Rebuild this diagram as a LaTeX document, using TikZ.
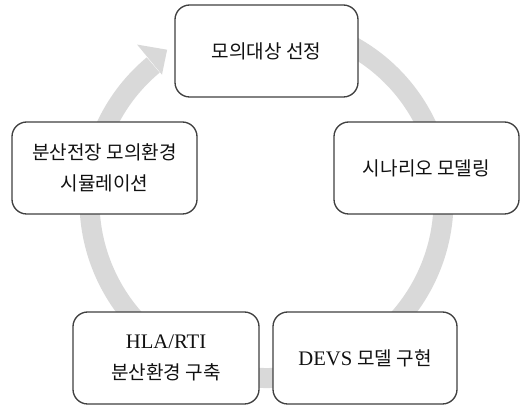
\documentclass[tikz,border=0pt]{standalone}
\usepackage{fontspec}
\setmainfont{Liberation Serif}
\newfontfamily\kr{Noto Sans CJK KR}
\newcommand\latn[1]{{\fontsize{15.5pt}{23.5pt}\selectfont #1}}
\definecolor{ringcol}{HTML}{D9D9D9}
\definecolor{edgecol}{HTML}{404040}
\definecolor{txtcol}{HTML}{111111}
\begin{document}
\begin{tikzpicture}[x=0.75pt,y=0.75pt,
  stepbox/.style={draw=edgecol, line width=1pt, rounded corners=11pt, fill=white,
    minimum height=69pt, align=center, text=txtcol,
    font=\fontsize{14.3pt}{23.5pt}\selectfont, inner sep=2pt},
  ring/.style={draw=ringcol, line width=15pt}]
\useasboundingbox (0,0) rectangle (521,406);
\fill[white] (0,0) rectangle (521,406);
\coordinate (c) at (266.5,205);
% circular arrow
\draw[ring] ([shift={(115:177)}]c) arc[start angle=115, end angle=-230.2, radius=177];
\fill[ringcol] ([shift={(129.6:203)}]c) -- ([shift={(123.3:181)}]c) -- ([shift={(129.6:164)}]c) -- cycle;
% steps
\node[stepbox, minimum width=137.25pt] (s1) at (266.5,355) {\kr 모의대상 선정};
\node[stepbox, minimum width=138.75pt] (s2) at (426.5,238) {\kr 시나리오 모델링};
\node[stepbox, minimum width=138pt] (s3) at (365,48) {\latn{DEVS} {\kr 모델 구현}};
\node[stepbox, minimum width=139.5pt] (s4) at (166,48) {\latn{HLA/RTI}\\{\kr 분산환경 구축}};
\node[stepbox, minimum width=138.75pt] (s5) at (104.5,238) {{\kr 분산전장 모의환경}\\{\kr 시뮬레이션}};
\end{tikzpicture}
\end{document}
